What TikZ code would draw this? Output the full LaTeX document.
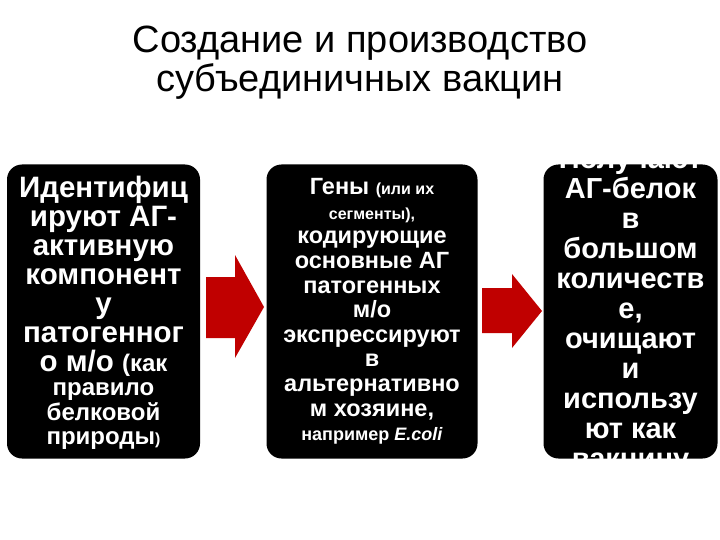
\documentclass[tikz,border=0pt]{standalone}
\usepackage{fontspec}
\setmainfont{Liberation Sans}
\definecolor{arrowred}{HTML}{C00000}
\tikzset{
  stepbox/.style={fill=black, rounded corners=15pt, minimum width=#1, minimum height=294pt, inner sep=0pt, draw=none},
  boxtext/.style={text=white, align=center, inner sep=0pt, font=\bfseries},
  redarrow/.style={fill=arrowred, draw=none}
}
\newcommand{\smalltxt}[2]{{\fontsize{#1}{#1}\selectfont #2}}
\begin{document}
\begin{tikzpicture}[x=1pt,y=-1pt]
\useasboundingbox (0,0) rectangle (720,540);
\fill[white] (0,0) rectangle (720,540);
% title
\node[align=center, font=\fontsize{38}{39}\selectfont] (title) at (360,63)
  {Создание и производство\\субъединичных вакцин};
% boxes
\node[stepbox=193pt] (b1) at (103.5,311.5) {};
\node[stepbox=211pt] (b2) at (372,311.5) {};
\node[stepbox=174pt] (b3) at (630.5,311.5) {};
% texts
\node[boxtext, font=\bfseries\fontsize{29.5}{29}\selectfont, yshift=-1.5pt] (t1) at (b1.center)
  {Идентифиц\\ируют АГ-\\активную\\компонент\\у\\патогенног\\о м/о \smalltxt{24}{(как}\\[-4.5pt]
   \smalltxt{24}{правило}\\[-4.5pt]\smalltxt{24}{белковой}\\[-4.5pt]\smalltxt{24}{природы\smalltxt{16}{)}}};
\node[boxtext, font=\bfseries\fontsize{23.5}{24.6}\selectfont] (t2) at (b2.center)
  {Гены \smalltxt{16}{(или их}\\\smalltxt{16}{сегменты),}\\кодирующие\\основные АГ\\патогенных\\м/о\\экспрессируют\\в\\альтернативно\\м хозяине,\\\smalltxt{18}{например \textit{E.coli}}};
\node[boxtext, font=\bfseries\fontsize{29}{30}\selectfont] (t3) at (b3.center)
  {Получают\\АГ-белок\\в\\большом\\количеств\\е,\\очищают\\и\\использу\\ют как\\вакцину};
% arrows
\fill[redarrow] (206,277) -- (235,277) -- (235,255) -- (264,307) -- (235,358) -- (235,338) -- (206,338) -- cycle;
\fill[redarrow] (482,288) -- (512,288) -- (512,274) -- (542,311) -- (512,348) -- (512,333) -- (482,333) -- cycle;
\end{tikzpicture}
\end{document}
